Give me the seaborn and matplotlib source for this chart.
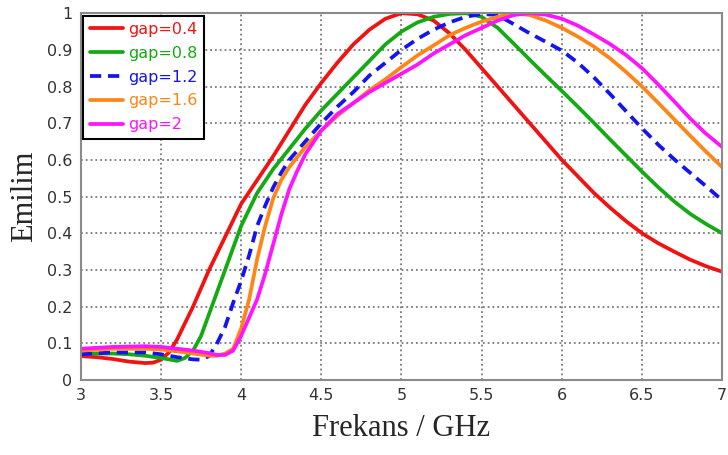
import pandas as pd
import numpy as np
import seaborn as sns
import matplotlib.pyplot as plt


# values
gaps = ['gap=0.4', 'gap=0.8', 'gap=1.2', 'gap=1.6', 'gap=2']

x_04 = [3.0, 3.1, 3.2, 3.3, 3.4, 3.45, 3.5, 3.55, 3.6, 3.7, 3.8, 3.9, 4.0, 4.1, 4.2, 4.3, 4.4,
        4.5, 4.6, 4.7, 4.8, 4.9, 5.0, 5.1, 5.2, 5.3, 5.4, 5.5, 5.6, 5.7, 5.8, 5.9, 6.0, 6.1, 6.2,
        6.3, 6.4, 6.5, 6.6, 6.7, 6.8, 6.9, 7.0]
y_04 = [0.065, 0.062, 0.057, 0.05, 0.046, 0.047, 0.055, 0.075, 0.11, 0.20, 0.30, 0.39, 0.48,
        0.545, 0.61, 0.68, 0.75, 0.81, 0.865, 0.915, 0.955, 0.985, 1.0, 0.997, 0.98, 0.945, 0.90,
        0.85, 0.80, 0.75, 0.70, 0.65, 0.60, 0.555, 0.51, 0.47, 0.433, 0.40, 0.373, 0.35, 0.328,
        0.31, 0.295]

x_08 = [3.0, 3.1, 3.2, 3.3, 3.4, 3.5, 3.6, 3.65, 3.7, 3.75, 3.8, 3.85, 3.9, 4.0, 4.1, 4.2, 4.3,
        4.4, 4.5, 4.6, 4.7, 4.8, 4.9, 5.0, 5.1, 5.2, 5.3, 5.4, 5.5, 5.6, 5.7, 5.8, 5.9, 6.0, 6.1,
        6.2, 6.3, 6.4, 6.5, 6.6, 6.7, 6.8, 6.9, 7.0]
y_08 = [0.07, 0.072, 0.072, 0.07, 0.066, 0.06, 0.052, 0.06, 0.08, 0.12, 0.18, 0.24, 0.30, 0.42,
        0.51, 0.575, 0.63, 0.685, 0.735, 0.78, 0.825, 0.87, 0.915, 0.95, 0.975, 0.99, 0.998, 1.0,
        0.99, 0.96, 0.917, 0.873, 0.83, 0.788, 0.745, 0.701, 0.656, 0.612, 0.568, 0.526, 0.487,
        0.453, 0.425, 0.40]

x_12 = [3.0, 3.2, 3.4, 3.5, 3.6, 3.7, 3.75, 3.8, 3.85, 3.9, 3.95, 4.0, 4.05, 4.1, 4.15, 4.2,
        4.25, 4.3, 4.4, 4.5, 4.6, 4.7, 4.8, 4.9, 5.0, 5.1, 5.2, 5.3, 5.4, 5.5, 5.6, 5.7, 5.8, 5.9,
        6.0, 6.1, 6.2, 6.3, 6.4, 6.5, 6.6, 6.7, 6.8, 6.9, 7.0]
y_12 = [0.07, 0.075, 0.075, 0.07, 0.062, 0.056, 0.055, 0.065, 0.10, 0.145, 0.21, 0.27, 0.34,
        0.42, 0.475, 0.525, 0.565, 0.60, 0.65, 0.70, 0.745, 0.785, 0.83, 0.865, 0.90, 0.93, 0.955,
        0.975, 0.99, 0.998, 0.995, 0.97, 0.945, 0.922, 0.898, 0.865, 0.825, 0.78, 0.733, 0.686,
        0.642, 0.602, 0.565, 0.528, 0.49]

x_16 = [3.0, 3.2, 3.4, 3.5, 3.6, 3.7, 3.8, 3.85, 3.9, 3.95, 4.0, 4.05, 4.1, 4.15, 4.2, 4.25,
        4.3, 4.4, 4.5, 4.6, 4.7, 4.8, 4.9, 5.0, 5.1, 5.2, 5.3, 5.4, 5.5, 5.6, 5.7, 5.8, 5.9, 6.0,
        6.1, 6.2, 6.3, 6.4, 6.5, 6.6, 6.7, 6.8, 6.9, 7.0]
y_16 = [0.08, 0.085, 0.085, 0.083, 0.078, 0.072, 0.066, 0.066, 0.072, 0.085, 0.14, 0.22, 0.33,
        0.42, 0.495, 0.545, 0.58, 0.635, 0.68, 0.72, 0.755, 0.79, 0.82, 0.853, 0.885, 0.912, 0.94,
        0.96, 0.977, 0.99, 1.0, 0.995, 0.98, 0.96, 0.936, 0.909, 0.877, 0.84, 0.80, 0.756, 0.711,
        0.666, 0.622, 0.58]

x_20 = [3.0, 3.2, 3.4, 3.5, 3.6, 3.7, 3.8, 3.85, 3.9, 3.95, 4.0, 4.05, 4.1, 4.15, 4.2, 4.25,
        4.3, 4.35, 4.4, 4.5, 4.6, 4.7, 4.8, 4.9, 5.0, 5.1, 5.2, 5.3, 5.4, 5.5, 5.6, 5.7, 5.8, 5.9,
        6.0, 6.1, 6.2, 6.3, 6.4, 6.5, 6.6, 6.7, 6.8, 6.9, 7.0]
y_20 = [0.085, 0.09, 0.092, 0.09, 0.085, 0.08, 0.073, 0.068, 0.068, 0.08, 0.12, 0.17, 0.22,
        0.29, 0.37, 0.45, 0.52, 0.57, 0.615, 0.68, 0.725, 0.755, 0.785, 0.81, 0.835, 0.86, 0.89,
        0.915, 0.94, 0.96, 0.98, 0.995, 1.0, 0.996, 0.985, 0.966, 0.942, 0.916, 0.886, 0.85,
        0.806, 0.76, 0.713, 0.671, 0.635]

x_ticks = [3, 3.5, 4, 4.5, 5, 5.5, 6, 6.5, 7]
x_tick_labels = ['3', '3.5', '4', '4.5', '5', '5.5', '6', '6.5', '7']
y_ticks = [0, 0.1, 0.2, 0.3, 0.4, 0.5, 0.6, 0.7, 0.8, 0.9, 1]
y_tick_labels = ['0', '0.1', '0.2', '0.3', '0.4', '0.5', '0.6', '0.7', '0.8', '0.9', '1']

colors = {'gap=0.4': '#f21212', 'gap=0.8': '#14aa14', 'gap=1.2': '#1414f0',
          'gap=1.6': '#ff8616', 'gap=2': '#ff14ff'}
dashes = {'gap=0.4': '', 'gap=0.8': '', 'gap=1.2': (3.0, 1.8), 'gap=1.6': '', 'gap=2': ''}

series = [(x_04, y_04), (x_08, y_08), (x_12, y_12), (x_16, y_16), (x_20, y_20)]
df = pd.concat([pd.DataFrame({'freq': xs, 'emilim': ys, 'gap': g})
                for g, (xs, ys) in zip(gaps, series)], ignore_index=True)

sns.set_style('white')
plt.rcParams['font.family'] = ['DejaVu Sans']

fig, ax = plt.subplots(figsize=(7.28, 4.55), dpi=100)
fig.subplots_adjust(left=0.111, right=0.992, bottom=0.165, top=0.971)

sns.lineplot(data=df, x='freq', y='emilim', hue='gap', style='gap', hue_order=gaps,
             style_order=gaps, palette=colors, dashes=dashes, linewidth=2.7,
             estimator=None, sort=False, ax=ax)

ax.set_xlim(3, 7)
ax.set_ylim(0, 1)
ax.set_xticks(x_ticks, x_tick_labels)
ax.set_yticks(y_ticks, y_tick_labels)
ax.grid(True, linestyle=':', color='#7a7a7a', linewidth=1.3)
ax.tick_params(direction='inout', length=6, width=1.2, color='#777777',
               labelsize=11.5, labelcolor='#333333', pad=3)
for s in ax.spines.values():
    s.set_color('#8a8a8a')
    s.set_linewidth(1.5)

ax.set_xlabel('Frekans / GHz', fontfamily='Liberation Serif', fontsize=22, labelpad=8)
ax.set_ylabel('Emilim', fontfamily='Liberation Serif', fontsize=22, labelpad=6)

leg = ax.legend(loc='upper left', bbox_to_anchor=(0, 1), borderaxespad=0.15, fontsize=11.5,
                handlelength=2.1, handletextpad=0.3, labelspacing=0.55, borderpad=0.4,
                fancybox=False, framealpha=1, edgecolor='black')
leg.get_frame().set_linewidth(1.5)
for t, g in zip(leg.get_texts(), gaps):
    t.set_color(colors[g])

plt.savefig('out.png', dpi=100)
